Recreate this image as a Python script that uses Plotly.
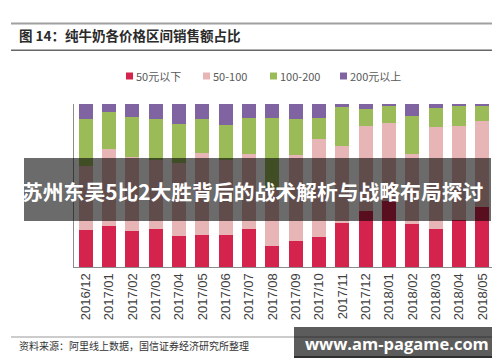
import plotly.graph_objects as go

months = ["2016/12", "2017/01", "2017/02", "2017/03", "2017/04", "2017/05",
          "2017/06", "2017/07", "2017/08", "2017/09", "2017/10", "2017/11",
          "2017/12", "2018/01", "2018/02", "2018/03", "2018/04", "2018/05"]
below50 = [23.0, 25.0, 22.3, 23.4, 19.1, 19.7, 19.7, 23.4, 13.1, 15.8, 18.3, 27.1,
           34.6, 40.4, 26.5, 23.6, 29.1, 36.9]
r50_100 = [39.0, 47.6, 45.0, 42.5, 44.9, 50.5, 45.7, 45.7, 35.5, 52.8, 60.1, 47.2,
           51.9, 48.2, 43.1, 62.4, 57.5, 52.7]
r100_200 = [28.8, 22.6, 25.0, 25.0, 23.7, 20.4, 21.9, 22.3, 43.0, 22.0, 13.0, 23.6,
            10.7, 10.1, 23.1, 11.6, 11.9, 9.4]
above200 = [9.2, 4.8, 7.7, 9.1, 12.3, 9.4, 12.7, 8.6, 8.4, 9.4, 8.6, 2.1,
            2.8, 1.3, 7.3, 2.4, 1.5, 1.0]

series_names = ["50元以下", "50-100", "100-200", "200元以上"]
series_vals = [below50, r50_100, r100_200, above200]
colors = ["#d4234d", "#e8b5b6", "#9bbb59", "#8064a2"]

W, H = 500, 362
L, R, T, B = 66, 486, 96, 259

def px(x):
    return (x - L) / (R - L)

def py(y):
    return (B - y) / (B - T)

fig = go.Figure()
for name, vals, col in zip(series_names, series_vals, colors):
    fig.add_trace(go.Bar(x=months, y=vals, name=name, marker_color=col,
                         marker_line_width=0, showlegend=False))

cjk = "Noto Sans CJK SC"

shapes = [
    dict(type="line", xref="paper", yref="paper", x0=px(3), x1=px(500), y0=py(15.5), y1=py(15.5),
         line=dict(color="#a0a0a0", width=2)),
    dict(type="line", xref="paper", yref="paper", x0=px(3), x1=px(500), y0=py(42.3), y1=py(42.3),
         line=dict(color="#666666", width=1.5)),
    dict(type="line", xref="paper", yref="paper", x0=px(3), x1=px(500), y0=py(329), y1=py(329),
         line=dict(color="#999999", width=1.2)),
    dict(type="rect", xref="paper", yref="paper", x0=px(16), x1=px(483), y0=py(213), y1=py(150),
         fillcolor="rgba(0,0,0,0.58)", line=dict(width=0), layer="above"),
    dict(type="rect", xref="paper", yref="paper", x0=px(286), x1=px(491), y0=py(350), y1=py(319),
         fillcolor="rgba(0,0,0,0.64)", line=dict(width=0), layer="above"),
    dict(type="line", xref="paper", yref="paper", x0=px(286), x1=px(491), y0=py(349), y1=py(349),
         line=dict(color="rgba(0,0,0,0.5)", width=2), layer="above"),
]

annotations = [
    dict(text="<b>图 14：纯牛奶各价格区间销售额占比</b>", xref="paper", yref="paper",
         x=px(9), y=py(27), xanchor="left", yanchor="middle", showarrow=False,
         font=dict(family=cjk, size=13.5, color="#2a2a2a")),
    dict(text="资料来源：阿里线上数据，国信证券经济研究所整理", xref="paper", yref="paper",
         x=px(9), y=py(337), xanchor="left", yanchor="middle", showarrow=False,
         font=dict(family=cjk, size=10, color="#333333")),
    dict(text="<b>苏州东吴5比2大胜背后的战术解析与战略布局探讨</b>", xref="paper", yref="paper",
         x=px(244), y=py(183), xanchor="center", yanchor="middle", showarrow=False,
         font=dict(family=cjk, size=20.8, color="#ffffff")),
    dict(text="<b>www.am-pagame.com</b>", xref="paper", yref="paper",
         x=px(388.5), y=py(335), xanchor="center", yanchor="middle", showarrow=False,
         font=dict(family="Open Sans", size=16.5, color="#ffffff")),
]

# legend (drawn as swatches + labels)
legend_sw_x = [118, 195, 262, 332]
legend_y = 68
for name, col, sx in zip(series_names, colors, legend_sw_x):
    shapes.append(dict(type="rect", xref="paper", yref="paper",
                       x0=px(sx), x1=px(sx + 7), y0=py(legend_y + 3.5), y1=py(legend_y - 3.5),
                       fillcolor=col, line=dict(width=0)))
    annotations.append(dict(text=name, xref="paper", yref="paper",
                            x=px(sx + 8), y=py(legend_y), xanchor="left", yanchor="middle",
                            showarrow=False,
                            font=dict(family=cjk, size=11, color="#595959")))

fig.update_layout(
    width=W, height=H,
    margin=dict(l=L, r=W - R, t=T, b=H - B, pad=0),
    barmode="stack", bargap=0.4,
    paper_bgcolor="white", plot_bgcolor="white",
    showlegend=False,
    xaxis=dict(type="category", tickangle=-90, showgrid=False, ticks="",
               showline=True, linecolor="#8c8c8c", linewidth=1,
               tickfont=dict(family="Liberation Sans", size=13, color="#404040")),
    yaxis=dict(range=[0, 100], showticklabels=False, showgrid=False, zeroline=False,
               showline=True, linecolor="#8c8c8c", linewidth=1, ticks=""),
    shapes=shapes, annotations=annotations,
)

fig.write_html("out.html")
